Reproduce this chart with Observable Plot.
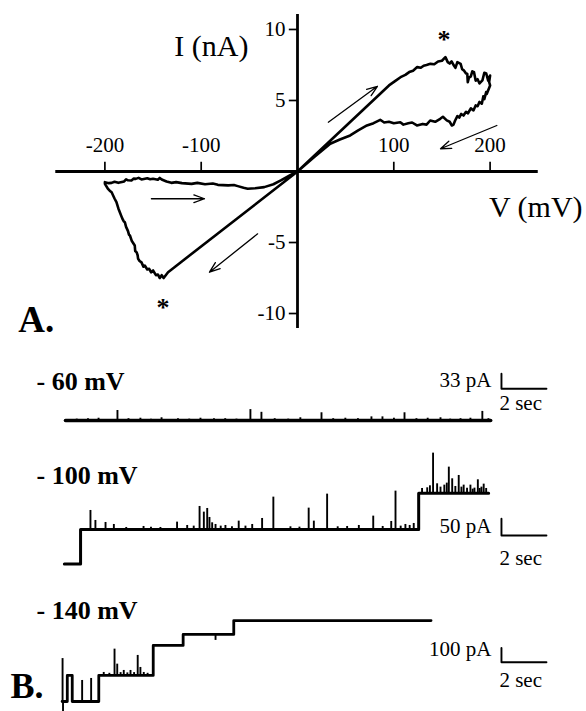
<!DOCTYPE html>
<html><head><meta charset="utf-8">
<script src="https://cdn.jsdelivr.net/npm/d3@7"></script>
<script src="https://cdn.jsdelivr.net/npm/@observablehq/plot@0.6"></script>
<style>
body{margin:0;background:#fff;}
#chart{width:586px;background:#fff;}
#chart svg{display:block;}
</style></head><body><div id="chart"></div>
<script>
// ---------- Panel A: I–V loop (V in mV, I in nA) ----------
const negOut = [[0,0],[-134.4,-7.09],[-139,-7.5],[-141,-7.3],[-143,-7.5],[-145,-7.25],[-147,-7.3],[-150,-6.97],[-152,-7.1],[-154,-6.85],[-156,-6.9],[-158.6,-6.62],[-160,-6.7],[-162,-6.4],[-164,-6.3],[-165.5,-6.15],[-166,-5.9],[-167,-5.7],[-168.5,-5.6],[-169,-5.21],[-171,-5.0],[-172,-4.9],[-174,-4.51],[-175,-4.45],[-176,-4.2],[-178,-3.9],[-179.3,-3.57],[-180.5,-3.5],[-182,-3.3],[-184.5,-2.87],[-186,-2.6],[-188,-2.16],[-190,-1.9],[-193,-1.46],[-195,-1.35],[-197,-1.2],[-200,-0.87]];
const negBack = [[-200,-0.75],[-196,-0.82],[-193,-0.8],[-190,-0.72],[-186,-0.8],[-180,-0.7],[-178,-0.55],[-176,-0.62],[-172.4,-0.63],[-170,-0.5],[-168,-0.52],[-165,-0.45],[-162,-0.56],[-156,-0.48],[-153,-0.55],[-150,-0.51],[-145,-0.58],[-143,-0.45],[-141,-0.56],[-136,-0.7],[-131,-0.8],[-126,-0.75],[-120,-0.82],[-110,-0.87],[-104,-0.8],[-96,-0.9],[-88,-0.85],[-82.7,-0.94],[-72,-0.98],[-66,-0.95],[-62,-1.03],[-56,-1.15],[-51.7,-1.22],[-48,-1.2],[-44,-1.18],[-34.5,-1.1],[-25,-0.9],[-17.3,-0.63],[-8,-0.28],[0,0]];
const posOut = [[0,0],[95,6.06],[102,6.4],[107,6.64],[112,6.8],[116,7.0],[120,7.1],[124.3,7.35],[128,7.3],[131,7.45],[134,7.5],[138,7.58],[142,7.55],[146,7.75],[150,7.8],[153.6,8.05],[156,7.7],[158,7.6],[160,7.75],[162.4,7.46],[164,7.3],[166,7.7],[169.4,7.58],[171,7.2],[173,7.1],[175,6.9],[176.3,6.88],[176.8,6.29],[178,6.6],[180,6.7],[181.5,7.05],[183.3,6.99],[185,6.4],[187,6.5],[189,6.2],[192,6.41],[194,6.95],[196,6.9],[198,6.4],[200,6.76],[199,6.3],[200,6.06]];
const posBack = [[196.6,5.47],[196,5.6],[194,5.1],[193,5.3],[191.4,4.77],[189,4.9],[187,4.6],[185,4.65],[182.7,4.3],[180,4.45],[177,4.1],[175,4.2],[172.4,3.94],[170,4.05],[168,3.8],[166,3.9],[163.7,3.59],[162,3.3],[160.3,3.24],[158,3.5],[155,3.6],[151,3.85],[148.2,3.71],[143,3.5],[137.8,3.59],[134,3.3],[130,3.35],[124,3.24],[119,3.45],[115,3.4],[110,3.3],[106.7,3.47],[100,3.4],[95,3.5],[90,3.45],[85.9,3.64],[79,3.4],[72.1,3.24],[63,2.9],[54.7,2.54],[44,2.25],[34,1.95],[18,1.05],[0,0]];
const xTicks = [-200,-100,100,200];
const yTicks = [-10,-5,5,10];
const axisExtentV = [-251, 250];
const axisExtentI = [-11.06, 11.06];
const arrowsA = [
  {x1:32, y1:3.47, x2:83, y2:6.0},
  {x1:207, y1:3.24, x2:148.5, y2:1.6},
  {x1:-151.7, y1:-1.92, x2:-96.6, y2:-1.92},
  {x1:-41.4, y1:-4.39, x2:-91.4, y2:-7.09}
];
const starsA = [{V:152, I:9.27}, {V:-139.7, I:-9.56}];

// ---------- Panel B: single-channel traces (t in s, current in pA) ----------
const trace1 = [[0,0],[18.9,0]];
const spikes1 = [[0.5,3],[1.0,4],[1.47,5],[2.31,22],[2.8,4],[3.33,5],[3.8,3],[4.27,6],[5.0,4],[5.5,3],[6.0,5],[6.6,4],[7.1,4],[7.6,3],[8.22,24],[8.71,18],[9.3,4],[9.9,3],[10.44,6],[11.38,17],[11.9,4],[12.44,5],[13.0,4],[13.6,8],[14.09,8],[14.6,5],[15.07,17],[15.6,4],[16.1,5],[16.67,6],[17.1,3],[17.56,4],[18.0,5],[18.53,20],[18.8,4]];
const trace2 = [[-0.05,0],[0.67,0],[0.67,103.6],[15.7,103.6],[15.7,212.6],[18.81,212.6]];
const spikes2 = [[1.11,57],[1.33,27],[1.78,21],[2.15,15],[2.7,6],[3.47,9],[3.8,7],[4.22,6],[4.96,22],[5.41,12],[5.7,10],[5.96,69],[6.15,52],[6.30,63],[6.4,36],[6.52,20],[6.67,15],[6.9,10],[7.11,12],[7.4,8],[7.7,25],[8.0,10],[8.3,15],[8.74,33],[9.24,97],[10.0,8],[10.4,7],[10.81,64],[11.04,25],[11.63,106],[12.1,8],[12.52,9],[13.04,12],[13.68,40],[14.1,9],[14.48,24],[14.67,115],[14.9,10],[15.11,15],[15.3,12],[15.48,18],
  [15.85,14],[16.08,16],[16.2,22],[16.34,120],[16.52,28],[16.67,18],[16.84,24],[16.95,30],[17.04,78],[17.19,43],[17.33,20],[17.48,53],[17.6,18],[17.7,24],[17.85,15],[18.0,24],[18.1,12],[18.18,15],[18.33,40],[18.41,14],[18.49,18],[18.59,27],[18.7,14]];
const trace3 = [[-0.15,0],[0.08,0],[0.08,182],[0.3,182],[0.3,0],[1.48,0],[1.48,182],[3.9,182],[3.9,392],[5.23,392],[5.23,469],[7.48,469],[7.48,566],[16.25,566]];
const spikes3 = [[-0.13,300],[0.74,147],[1.14,161],[1.7,21],[1.95,15],[2.18,184],[2.3,79],[2.45,20],[2.59,35],[2.75,18],[2.89,35],[3.05,20],[3.21,140],[3.33,56],[3.48,21],[3.65,15],[6.67,-42]];
const dips3 = [[-0.11,-70]];
const traceLabels = ["- 60 mV", "- 100 mV", "- 140 mV"];
const barPA = [33, 50, 100];
const barSec = 2;
const barLabels = ["33 pA", "50 pA", "100 pA"];

const font = "'Liberation Serif', 'Times New Roman', serif";
const tDomain = [-2.889, 23.16];

function levelAt(steps, t) {
  let lv = steps[0][1];
  for (const [tt, v] of steps) if (tt <= t) lv = v;
  return lv;
}

// Panel A
const loop = [...negOut, ...negBack, ...posOut, ...posBack];
const plotA = Plot.plot({
  width: 586, height: 340, margin: 0,
  x: {domain: [-308.4, 300.1], axis: null},
  y: {domain: [-11.9, 12.04], axis: null},
  style: {fontFamily: font, background: "white", color: "black"},
  marks: [
    Plot.ruleY([0], {x1: axisExtentV[0], x2: axisExtentV[1], strokeWidth: 2.8}),
    Plot.ruleX([0], {y1: axisExtentI[0], y2: axisExtentI[1], strokeWidth: 2.8}),
    Plot.ruleX(xTicks, {x: d => d, y1: 0, y2: 0.65, strokeWidth: 1.7}),
    Plot.ruleY(yTicks, {y: d => d, x1: -8.5, x2: 0, strokeWidth: 1.7}),
    Plot.text(xTicks, {x: d => d, y: 1.83, text: d => String(d), fontSize: 21}),
    Plot.text(yTicks, {x: 0, y: d => d, dx: -12, textAnchor: "end", text: d => String(d), fontSize: 21}),
    Plot.line(loop, {x: d => d[0], y: d => d[1], strokeWidth: 2.6, strokeLinejoin: "round"}),
    Plot.arrow(arrowsA, {x1: "x1", y1: "y1", x2: "x2", y2: "y2", strokeWidth: 1.3, headLength: 13, headAngle: 40}),
    Plot.text(starsA, {x: "V", y: "I", text: d => "*", fontSize: 26, fontWeight: "bold"}),
    Plot.text(["I (nA)"], {x: -50.9, y: 8.84, text: d => d, textAnchor: "end", fontSize: 30}),
    Plot.text(["V (mV)"], {x: 296, y: -2.54, text: d => d, textAnchor: "end", fontSize: 30}),
    Plot.text(["A."], {x: -290, y: -10.5, text: d => d, textAnchor: "start", fontSize: 37, fontWeight: "bold"})
  ]
});

function tracePlot({height, yDomain, trace, spikes, extraRules, i, labelY, bar0, barTextY, secY, sw, extra}) {
  const spk = spikes.map(([t, h]) => ({t, y1: levelAt(trace, t), y2: levelAt(trace, t) + h}));
  const bar = [[19.38, bar0 + barPA[i]], [19.38, bar0], [19.38 + barSec, bar0]];
  return Plot.plot({
    width: 586, height, margin: 0,
    x: {domain: tDomain, axis: null},
    y: {domain: yDomain, axis: null},
    style: {fontFamily: font, background: "white", color: "black"},
    marks: [
      Plot.line(trace, {x: d => d[0], y: d => d[1], strokeWidth: sw}),
      Plot.ruleX(spk, {x: "t", y1: "y1", y2: "y2", strokeWidth: 1.9}),
      ...(extraRules ? [Plot.ruleX(extraRules, {x: d => d[0], y1: 0, y2: d => d[1], strokeWidth: 1.9})] : []),
      Plot.line(bar, {x: d => d[0], y: d => d[1], strokeWidth: 1.9}),
      Plot.text([traceLabels[i]], {x: -1.29, y: labelY, text: d => d, textAnchor: "start", fontSize: 26, fontWeight: "bold"}),
      Plot.text([barLabels[i]], {x: 18.93, y: barTextY, text: d => d, textAnchor: "end", fontSize: 21}),
      Plot.text([barSec + " sec"], {x: 19.29, y: secY, text: d => d, textAnchor: "start", fontSize: 21}),
      ...(extra || [])
    ]
  });
}

const plotB1 = tracePlot({height: 100, yDomain: [-44, 176], trace: trace1, spikes: spikes1, i: 0, labelY: 85.8, bar0: 69.7, barTextY: 88, secY: 37.4, sw: 3.6});
const plotB2 = tracePlot({height: 150, yDomain: [-79.5, 370.5], trace: trace2, spikes: spikes2, i: 1, labelY: 265.8, bar0: 85.6, barTextY: 113.5, secY: 16.5, sw: 3});
const plotB3 = tracePlot({height: 121, yDomain: [-70, 776], trace: trace3, spikes: spikes3, extraRules: dips3, i: 2, labelY: 636, bar0: 274.8, barTextY: 363.6, secY: 146.9, sw: 2.8,
  extra: [Plot.text(["B."], {x: -2.45, y: 105, text: d => d, textAnchor: "start", fontSize: 36, fontWeight: "bold"})]});

const chart = document.getElementById("chart");
chart.append(plotA, plotB1, plotB2, plotB3);
</script>
</body></html>
